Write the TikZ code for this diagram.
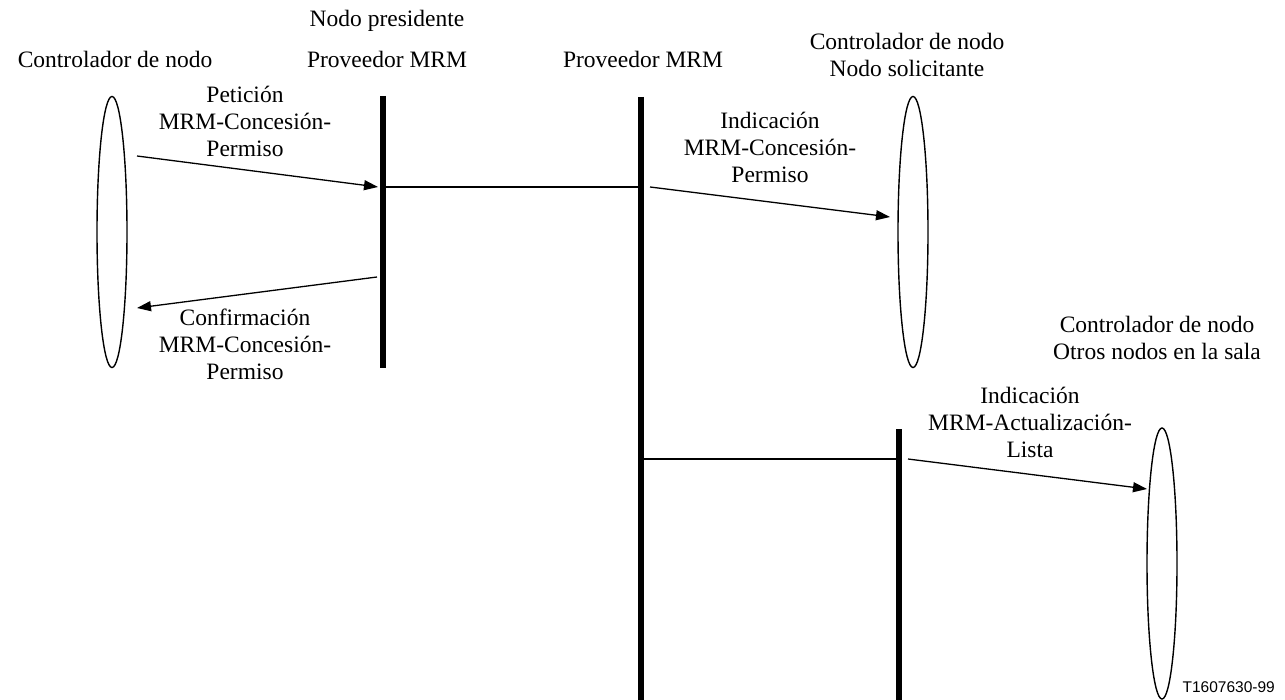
\documentclass[tikz,border=0pt]{standalone}
\usepackage{fontspec}
\setmainfont{Liberation Serif}
\newfontfamily\figsans{Liberation Sans}
\usetikzlibrary{arrows.meta,shapes.geometric}
\begin{document}
\begin{tikzpicture}[x=1pt,y=-1pt,
  txt/.style={font=\fontsize{23.5}{27}\selectfont, inner sep=0pt, align=center, anchor=base},
  lifeline/.style={line width=6pt},
  link/.style={line width=2pt},
  msg/.style={line width=1.3pt, -{Triangle[length=14pt,width=10pt]}},
  proc/.style={draw, ellipse, line width=1.4pt, minimum width=30pt, minimum height=271pt, inner sep=0pt}]
\path[use as bounding box] (0,0) rectangle (1285,700);

% processes (ellipses)
\node[proc] (e1) at (112,232) {};
\node[proc] (e2) at (913,232) {};
\node[proc] (e3) at (1162,563.5) {};

% lifelines
\coordinate (l1t) at (383,96);
\coordinate (l1b) at (383,368);
\coordinate (l2t) at (641,97);
\coordinate (l2b) at (641,700);
\coordinate (l3t) at (899,429);
\coordinate (l3b) at (899,700);
\draw[lifeline] (l1t) -- (l1b);
\draw[lifeline] (l2t) -- (l2b);
\draw[lifeline] (l3t) -- (l3b);

% links between providers
\coordinate (k1a) at (383,187);
\coordinate (k1b) at (641,187);
\coordinate (k2a) at (641,459);
\coordinate (k2b) at (899,459);
\draw[link] (k1a) -- (k1b);
\draw[link] (k2a) -- (k2b);

% messages
\coordinate (m1s) at (137,156);
\coordinate (m1e) at (378,187);
\coordinate (m2s) at (377,277);
\coordinate (m2e) at (137,308);
\coordinate (m3s) at (650,187);
\coordinate (m3e) at (890,217);
\coordinate (m4s) at (908,459);
\coordinate (m4e) at (1147,489);
\draw[msg] (m1s) -- (m1e);
\draw[msg] (m2s) -- (m2e);
\draw[msg] (m3s) -- (m3e);
\draw[msg] (m4s) -- (m4e);

% headings (base = baseline of the last line)
\node[txt] (ctl1) at (115,68) {Controlador de nodo};
\node[txt] (pres) at (387,27) {Nodo presidente};
\node[txt] (prov1) at (387,68) {Proveedor MRM};
\node[txt] (prov2) at (643,68) {Proveedor MRM};
\node[txt] (ctl2) at (907,77) {Controlador de nodo\\Nodo solicitante};
\node[txt] (ctl3) at (1157,360) {Controlador de nodo\\Otros nodos en la sala};

% message labels
\node[txt] (lab1) at (245,157) {Petición\\MRM-Concesión-\\Permiso};
\node[txt] (lab2) at (245,380) {Confirmación\\MRM-Concesión-\\Permiso};
\node[txt] (lab3) at (770,183) {Indicación\\MRM-Concesión-\\Permiso};
\node[txt] (lab4) at (1030,457) {Indicación\\MRM-Actualización-\\Lista};

% figure number
\node[font=\figsans\fontsize{15.5}{18}\selectfont, inner sep=0pt, anchor=base east] (fig) at (1275,692) {T1607630-99};
\end{tikzpicture}
\end{document}
